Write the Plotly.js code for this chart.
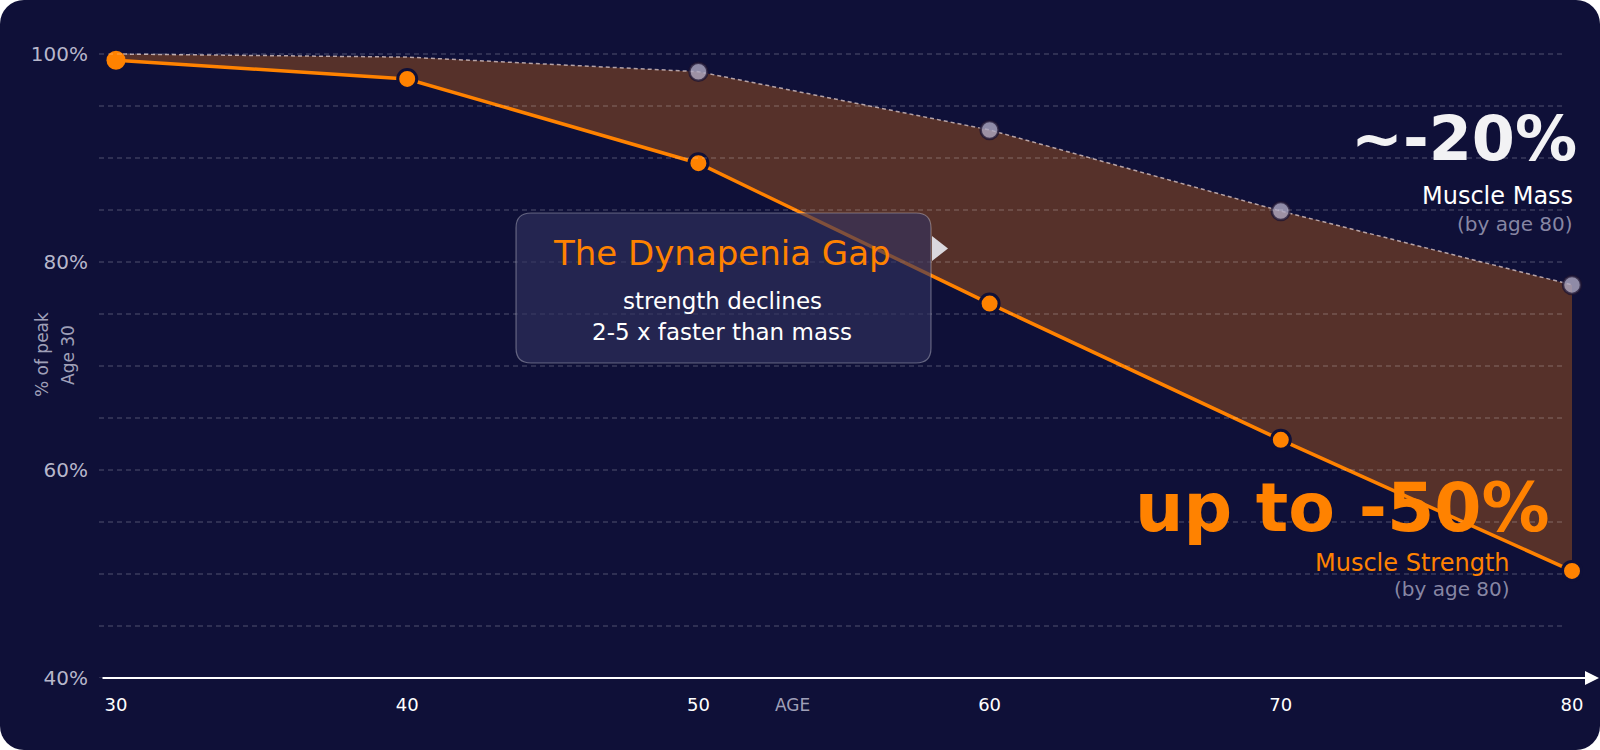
<!DOCTYPE html>
<html>
<head>
<meta charset="utf-8">
<script src="https://cdn.plot.ly/plotly-3.0.1.min.js"></script>
<style>
  html, body { margin:0; padding:0; background:#ffffff; }
  #card { width:1600px; height:750px; background:#0f1038; border-radius:24px; overflow:hidden; }
  #chart { width:1600px; height:750px; }
</style>
</head>
<body>
<div id="card"><div id="chart"></div></div>
<script>
// ---- data ----
const ages = [30, 40, 50, 60, 70, 80];
const strength = [99.4, 97.6, 89.5, 76.0, 62.9, 50.3];
const mass = [100, 99.7, 98.3, 92.7, 84.9, 77.8];
const yTickVals = [40, 60, 80, 100];
const yTickText = ['40%', '60%', '80%', '100%'];
const xTickText = ['30', '40', '50', '60', '70', '80'];
const gridVals = [40, 45, 50, 55, 60, 65, 70, 75, 80, 85, 90, 95, 100];

const FONT = 'DejaVu Sans, Open Sans, sans-serif';
const ORANGE = '#ff8200';
const NAVY = '#0f1038';

// plot area geometry helpers (pixels -> paper)
const L = 101, W = 1498, T = 40, H = 638;
const px = v => (v - L) / W;
const py = v => (T + H - v) / H;

const traces = [
  { x: ages, y: strength, mode: 'lines', line: { width: 0, color: 'rgba(0,0,0,0)' }, hoverinfo: 'skip', showlegend: false },
  { x: ages, y: mass, mode: 'lines', fill: 'tonexty', fillcolor: '#56312a',
    line: { color: 'rgba(225,205,205,0.75)', width: 1.5, dash: '4px,3px' }, showlegend: false },
  { x: ages, y: strength, mode: 'lines+markers', line: { color: ORANGE, width: 3.5 },
    marker: { size: 19, color: ORANGE, line: { color: NAVY, width: [0, 3, 3, 3, 3, 3] } }, showlegend: false },
  { x: ages.slice(2), y: mass.slice(2), mode: 'markers',
    marker: { size: 18, color: 'rgba(175,170,195,0.8)', line: { color: 'rgba(30,20,50,0.75)', width: 2.5 } }, showlegend: false }
];

const shapes = gridVals.map(v => ({
  type: 'line', xref: 'paper', yref: 'y', x0: px(99), x1: px(1562), y0: v, y1: v,
  line: { color: 'rgba(255,255,255,0.28)', width: 1, dash: '5px,4px' }, layer: 'above'
}));

// callout box with rounded corners
(function () {
  const x0 = px(516), x1 = px(931), y0 = py(363), y1 = py(213);
  const rx = 15 / W, ry = 15 / H;
  const path = `M ${x0 + rx},${y1} L ${x1 - rx},${y1} Q ${x1},${y1} ${x1},${y1 - ry} ` +
    `L ${x1},${y0 + ry} Q ${x1},${y0} ${x1 - rx},${y0} L ${x0 + rx},${y0} Q ${x0},${y0} ${x0},${y0 + ry} ` +
    `L ${x0},${y1 - ry} Q ${x0},${y1} ${x0 + rx},${y1} Z`;
  shapes.push({ type: 'path', xref: 'paper', yref: 'paper', path: path,
    fillcolor: 'rgba(50,50,95,0.62)', line: { color: 'rgba(255,255,255,0.32)', width: 1.2 }, layer: 'above' });
  const tx0 = px(932), tx1 = px(948), ty0 = py(236), ty1 = py(261), tym = py(248.5);
  shapes.push({ type: 'path', xref: 'paper', yref: 'paper',
    path: `M ${tx0},${ty0} L ${tx1},${tym} L ${tx0},${ty1} Z`,
    fillcolor: 'rgba(225,225,232,0.95)', line: { width: 0 }, layer: 'above' });
})();

const C = { xanchor: 'center', yanchor: 'middle', showarrow: false };
const R = { xanchor: 'right', yanchor: 'middle', showarrow: false };
const annotations = [
  // x axis arrow
  { xref: 'paper', yref: 'y', x: 1, y: 40, ax: -W, ay: 0, axref: 'pixel', ayref: 'pixel', text: '',
    showarrow: true, arrowhead: 2, arrowsize: 1.4, arrowwidth: 2, arrowcolor: '#ffffff', standoff: 0, startstandoff: 0 },
  // axis titles
  Object.assign({ xref: 'paper', yref: 'paper', x: px(792), y: py(705), text: 'AGE',
    font: { family: FONT, size: 17, color: 'rgba(200,200,220,0.8)' } }, C),
  Object.assign({ xref: 'paper', yref: 'paper', x: px(42), y: py(355), text: '% of peak', textangle: -90,
    font: { family: FONT, size: 17, color: 'rgba(200,200,220,0.8)' } }, C),
  Object.assign({ xref: 'paper', yref: 'paper', x: px(68), y: py(355), text: 'Age 30', textangle: -90,
    font: { family: FONT, size: 17, color: 'rgba(200,200,220,0.8)' } }, C),
  // mass labels
  Object.assign({ xref: 'x', yref: 'y', x: 80.25, y: 91.85, text: '<b>~-20%</b>',
    font: { family: FONT, size: 62, color: '#f2f2f4' } }, R),
  Object.assign({ xref: 'x', yref: 'y', x: 80.1, y: 86.3, text: 'Muscle Mass',
    font: { family: FONT, size: 24, color: '#ffffff' } }, R),
  Object.assign({ xref: 'x', yref: 'y', x: 80.1, y: 83.7, text: '(by age 80)',
    font: { family: FONT, size: 20, color: 'rgba(175,175,200,0.75)' } }, R),
  // strength labels
  Object.assign({ xref: 'x', yref: 'y', x: 79.3, y: 56.4, text: '<b>up to -50%</b>',
    font: { family: FONT, size: 68, color: ORANGE } }, R),
  Object.assign({ xref: 'x', yref: 'y', x: 77.95, y: 51.06, text: 'Muscle Strength',
    font: { family: FONT, size: 24, color: ORANGE } }, R),
  Object.assign({ xref: 'x', yref: 'y', x: 77.95, y: 48.56, text: '(by age 80)',
    font: { family: FONT, size: 20, color: 'rgba(175,175,200,0.75)' } }, R),
  // callout text
  Object.assign({ xref: 'paper', yref: 'paper', x: px(722), y: py(253), text: 'The Dynapenia Gap',
    font: { family: FONT, size: 34, color: ORANGE } }, C),
  Object.assign({ xref: 'paper', yref: 'paper', x: px(722), y: py(301), text: 'strength declines',
    font: { family: FONT, size: 23, color: '#ffffff' } }, C),
  Object.assign({ xref: 'paper', yref: 'paper', x: px(722), y: py(332), text: '2-5 x faster than mass',
    font: { family: FONT, size: 23, color: '#ffffff' } }, C)
];

const pxPerYear = (1572 - 116) / 50;
const layout = {
  width: 1600, height: 750,
  paper_bgcolor: 'rgba(0,0,0,0)', plot_bgcolor: 'rgba(0,0,0,0)',
  margin: { l: L, r: 1600 - L - W, t: T, b: 750 - T - H },
  showlegend: false,
  xaxis: {
    range: [30 - (116 - L) / pxPerYear, 80 + (L + W - 1572) / pxPerYear],
    tickvals: ages, ticktext: xTickText, showgrid: false, zeroline: false, showline: false,
    ticks: '', ticklabelstandoff: 14, tickfont: { family: FONT, size: 18, color: '#ffffff' }, fixedrange: true
  },
  yaxis: {
    range: [40, 40 + H / 10.4],
    tickvals: yTickVals, ticktext: yTickText, showgrid: false, zeroline: false, showline: false,
    ticks: '', ticklabelstandoff: 12, tickfont: { family: FONT, size: 20, color: 'rgba(215,215,230,0.85)' }, fixedrange: true
  },
  shapes: shapes,
  annotations: annotations
};

Plotly.newPlot('chart', traces, layout, { displayModeBar: false, staticPlot: true });
</script>
</body>
</html>
